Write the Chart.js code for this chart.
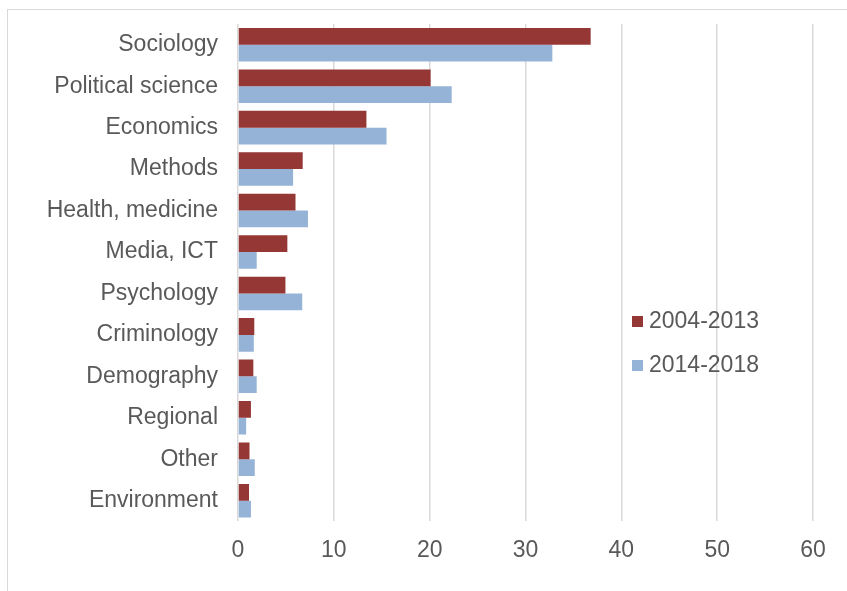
<!DOCTYPE html>
<html>
<head>
<meta charset="utf-8">
<script src="https://cdn.jsdelivr.net/npm/chart.js@4"></script>
<style>
    html, body { margin: 0; padding: 0; background: #fff; }
    #wrap { position: relative; width: 847px; height: 591px; overflow: hidden; }
    #frame { position: absolute; left: 7px; top: 9px; width: 900px; height: 700px;
             border-left: 1px solid #d9d9d9; border-top: 1px solid #d9d9d9; }
    canvas { position: absolute; left: 0; top: 0; }
</style>
</head>
<body>
<div id="wrap">
    <div id="frame"></div>
    <canvas id="chart" width="847" height="591"></canvas>
</div>
<script>
// Datos
const categories = ['Sociology', 'Political science', 'Economics', 'Methods', 'Health, medicine',
    'Media, ICT', 'Psychology', 'Criminology', 'Demography', 'Regional', 'Other', 'Environment'];
const seriesNames = ['2004-2013', '2014-2018'];
const values2004 = [36.8, 20.1, 13.4, 6.75, 6.0, 5.15, 4.95, 1.7, 1.6, 1.35, 1.2, 1.15];
const values2014 = [32.8, 22.3, 15.5, 5.75, 7.3, 1.95, 6.7, 1.65, 1.95, 0.85, 1.75, 1.35];
const xTicks = [0, 10, 20, 30, 40, 50, 60];

const colors = ['#953735', '#95b3d7'];
const textColor = '#595959';
const fontFamily = '"Liberation Sans", Arial, sans-serif';

// Leyenda dibujada encima del área del gráfico (como en Excel)
const overlayLegend = {
    id: 'overlayLegend',
    afterDraw(chart) {
        const ctx = chart.ctx;
        ctx.save();
        ctx.font = '23px ' + fontFamily;
        ctx.textBaseline = 'middle';
        chart.data.datasets.forEach((ds, i) => {
            const y = 321 + i * 44;
            ctx.fillStyle = ds.backgroundColor;
            ctx.fillRect(632, y - 5, 11, 11);
            ctx.fillStyle = textColor;
            ctx.fillText(ds.label, 649, y + 1);
        });
        ctx.restore();
    }
};

const ctx = document.getElementById('chart').getContext('2d');
new Chart(ctx, {
    type: 'bar',
    data: {
        labels: categories,
        datasets: [{
            label: seriesNames[0],
            data: values2004,
            backgroundColor: colors[0],
            categoryPercentage: 0.81,
            barPercentage: 1
        }, {
            label: seriesNames[1],
            data: values2014,
            backgroundColor: colors[1],
            categoryPercentage: 0.81,
            barPercentage: 1
        }]
    },
    options: {
        indexAxis: 'y',
        responsive: false,
        animation: false,
        layout: { padding: { left: 0, right: 34, top: 24, bottom: 12 } },
        plugins: {
            legend: { display: false },
            tooltip: { enabled: false }
        },
        scales: {
            x: {
                min: 0,
                max: 60,
                afterBuildTicks: (scale) => {
                    scale.ticks = xTicks.map(v => ({ value: v }));
                },
                grid: { color: '#d9d9d9', lineWidth: 1.5, drawTicks: false },
                border: { display: false },
                ticks: {
                    padding: 15,
                    color: textColor,
                    font: { family: fontFamily, size: 23 }
                }
            },
            y: {
                afterFit: (scale) => {
                    scale.width = 238;
                    scale.paddingTop = 0;
                    scale.paddingBottom = 0;
                },
                grid: { display: false, drawTicks: false },
                border: { display: false },
                ticks: {
                    padding: 20,
                    color: textColor,
                    font: { family: fontFamily, size: 23 },
                    autoSkip: false
                }
            }
        }
    },
    plugins: [overlayLegend]
});
</script>
</body>
</html>
